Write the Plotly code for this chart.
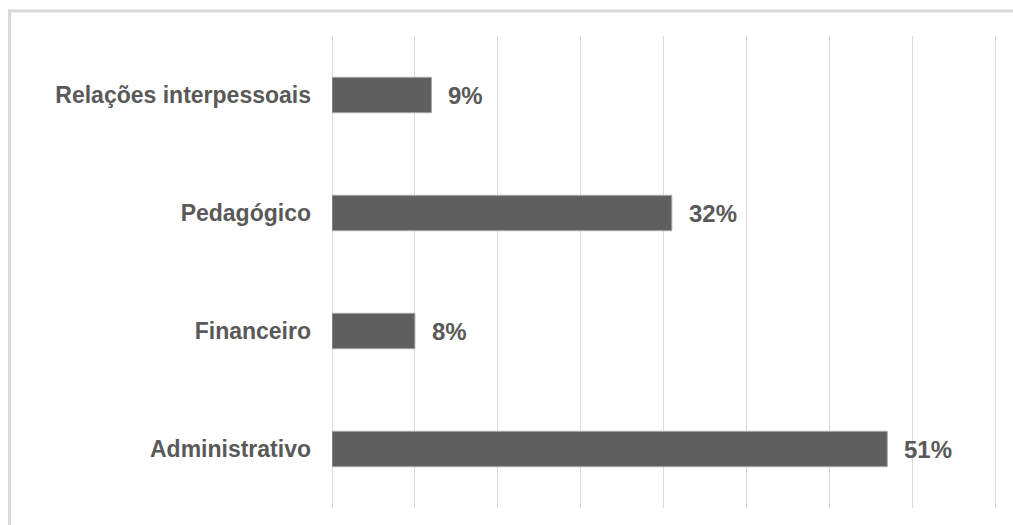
import plotly.graph_objects as go

categories = ["Administrativo", "Financeiro", "Pedagógico", "Relações interpessoais"]
values = [67, 10, 41, 12]
labels = ["51%", "8%", "32%", "9%"]
axis_max = 80
axis_step = 10

TEXT = "#595959"
FONT = "Liberation Sans, Arial, sans-serif"

fig = go.Figure()
fig.add_trace(go.Bar(
    y=categories, x=values, orientation="h",
    marker=dict(color="#5f5f5f", line=dict(color="#a6a6a6", width=1)),
    hoverinfo="skip",
))

annotations = [
    dict(x=v, y=c, text=f"<b>{t}</b>", xref="x", yref="y", showarrow=False,
         xanchor="left", yanchor="middle", xshift=15,
         font=dict(family=FONT, size=24, color=TEXT))
    for c, v, t in zip(categories, values, labels)
]

fig.update_layout(
    width=1013, height=525,
    margin=dict(l=332, r=15, t=36, b=17),
    paper_bgcolor="white", plot_bgcolor="white",
    bargap=0.70,
    showlegend=False,
    annotations=annotations,
    shapes=[dict(type="rect", xref="paper", yref="paper",
                 x0=(9.5 - 332) / 666, x1=1.1, y0=-0.2, y1=1 + 25 / 472,
                 line=dict(color="#d9d9d9", width=3), fillcolor="rgba(0,0,0,0)",
                 layer="below")],
    xaxis=dict(range=[0, axis_max * 1.0045], dtick=axis_step, showticklabels=False,
               showgrid=True, gridcolor="#d9d9d9", gridwidth=1,
               zeroline=True, zerolinecolor="#d9d9d9", zerolinewidth=1,
               showline=False, fixedrange=True),
    yaxis=dict(showgrid=False, showline=False, zeroline=False, ticks="",
               ticklabelstandoff=20,
               tickfont=dict(family=FONT, size=23, color=TEXT),
               categoryorder="array", categoryarray=categories),
)
fig.update_yaxes(ticktext=[f"<b>{c}</b>" for c in categories], tickvals=categories)

fig.write_html("out.html")
